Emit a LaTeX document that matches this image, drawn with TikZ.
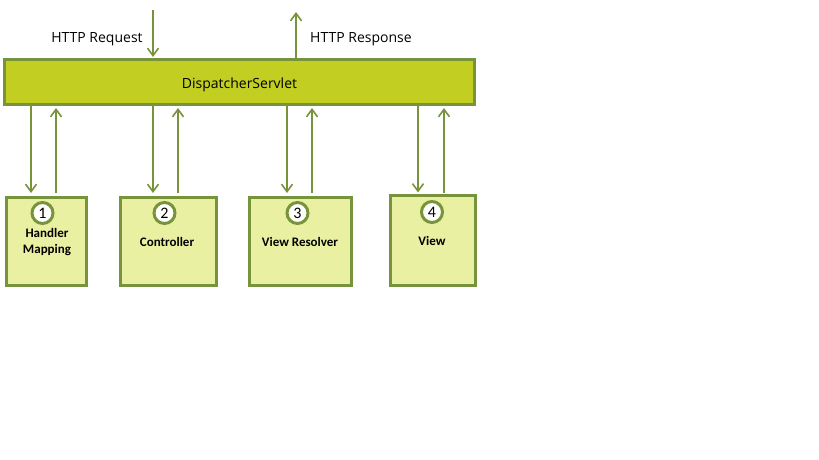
\documentclass[tikz,border=0pt]{standalone}
\usepackage{fontspec}
\setmainfont{Carlito}
\newfontfamily\uifont{Open Sans}
\usetikzlibrary{arrows.meta}
\usetikzlibrary{calc}

\definecolor{olivedark}{HTML}{77933C}
\definecolor{servletfill}{HTML}{C2CF22}
\definecolor{stepfill}{HTML}{EAF0A2}

\tikzset{
  servlet/.style={draw=olivedark,line width=3pt,fill=servletfill,minimum width=470pt,minimum height=45pt,inner sep=0pt},
  partbox/.style={draw=olivedark,line width=3pt,fill=stepfill,inner sep=0pt,align=center},
  numcirc/.style={circle,draw=olivedark,line width=3pt,fill=white,minimum size=21pt,inner sep=0pt,font=\fontsize{16}{16}\selectfont},
  flow/.style={draw=olivedark,line width=1.8pt,-{Straight Barb[length=7.5pt,width=11pt,line width=1.6pt]}},
  boxlabel/.style={font=\bfseries\fontsize{13}{16}\selectfont,align=center},
  toplabel/.style={font=\uifont\fontsize{14}{16}\selectfont}
}

\begin{document}
\begin{tikzpicture}[line cap=butt,line join=miter,x=1pt,y=-1pt]
\useasboundingbox (0,0) rectangle (819,460);
%\draw[help lines] (0,0) grid[step=50] (819,460);

\node[servlet] (ds) at (239.5,82) {};
\node[toplabel] (dslabel) at (239.5,85) {DispatcherServlet};

\coordinate (reqtop) at (153,10);
\coordinate (restop) at (296,12);
\node[toplabel] (req) at (97,39) {HTTP Request};
\node[toplabel] (res) at (361,39) {HTTP Response};
\draw[flow,shorten >=1pt] (reqtop) -- (reqtop |- ds.north);
\draw[flow] (restop |- ds.north) -- (restop);

% the four helpers
\node[partbox,minimum width=80pt,minimum height=88pt] (hm) at (46,241) {};
\node[partbox,minimum width=96pt,minimum height=88pt] (ctl) at (168,241) {};
\node[partbox,minimum width=102pt,minimum height=88pt] (vr) at (300,241) {};
\node[partbox,minimum width=85pt,minimum height=90pt] (vw) at (432.5,240) {};

\node[numcirc] (n1) at (42.5,213) {1};
\node[numcirc] (n2) at (164.5,213) {2};
\node[numcirc] (n3) at (297.5,213) {3};
\node[numcirc] (n4) at (432,212) {4};

\node[boxlabel] (hmlabel) at (47,242) {Handler\\Mapping};
\node[boxlabel] (ctllabel) at (167,242) {Controller};
\node[boxlabel] (vrlabel) at (300,242) {View Resolver};
\node[boxlabel] (vwlabel) at (432,241) {View};

\draw[flow,shorten >=2.5pt] ([xshift=-15pt]hm.north |- ds.south) -- ([xshift=-15pt]hm.north);
\draw[flow,shorten <=2.5pt,shorten >=2pt] ([xshift=10pt]hm.north) -- ([xshift=10pt]hm.north |- ds.south);
\draw[flow,shorten >=2.5pt] ([xshift=-15pt]ctl.north |- ds.south) -- ([xshift=-15pt]ctl.north);
\draw[flow,shorten <=2.5pt,shorten >=2pt] ([xshift=10pt]ctl.north) -- ([xshift=10pt]ctl.north |- ds.south);
\draw[flow,shorten >=2.5pt] ([xshift=-13pt]vr.north |- ds.south) -- ([xshift=-13pt]vr.north);
\draw[flow,shorten <=2.5pt,shorten >=2pt] ([xshift=12pt]vr.north) -- ([xshift=12pt]vr.north |- ds.south);
\draw[flow,shorten >=1pt] ([xshift=-14.5pt]vw.north |- ds.south) -- ([xshift=-14.5pt]vw.north);
\draw[flow,shorten <=1pt,shorten >=2pt] ([xshift=11.5pt]vw.north) -- ([xshift=11.5pt]vw.north |- ds.south);
\end{tikzpicture}
\end{document}
